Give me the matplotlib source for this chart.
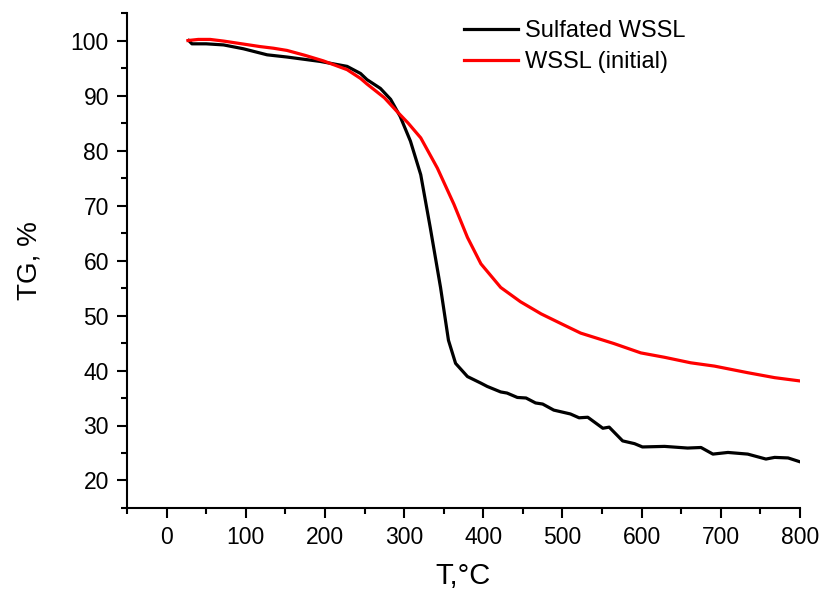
import matplotlib
matplotlib.use("Agg")
import matplotlib.pyplot as plt
from matplotlib.ticker import MultipleLocator

plt.rcParams['font.family'] = ['Liberation Sans', 'DejaVu Sans']

# Sulfated WSSL
t_sulf = [28, 32, 50, 72, 97, 127, 152, 194, 228, 245, 253, 270, 283, 295, 308, 321, 333, 346,
          356, 365, 380, 397, 405, 422, 430, 443, 454, 466, 475, 489, 510, 521, 532, 551, 559,
          576, 591, 601, 629, 658, 675, 690, 709, 734, 757, 768, 785, 800]
tg_sulf = [100.0, 99.4, 99.4, 99.2, 98.5, 97.4, 97.0, 96.2, 95.3, 94.0, 92.9, 91.3, 89.3, 86.2,
           81.7, 75.6, 66.0, 55.1, 45.5, 41.3, 38.9, 37.7, 37.1, 36.1, 35.9, 35.1, 35.0, 34.1,
           33.9, 32.8, 32.1, 31.4, 31.5, 29.5, 29.7, 27.2, 26.7, 26.1, 26.2, 25.9, 26.0, 24.8,
           25.1, 24.8, 23.9, 24.2, 24.1, 23.4]

# WSSL (initial)
t_init = [27, 40, 55, 72, 95, 118, 135, 152, 175, 198, 228, 245, 253, 275, 291, 305, 321, 342,
          363, 380, 397, 422, 447, 473, 500, 523, 565, 599, 629, 662, 692, 734, 768, 800]
tg_init = [100.0, 100.2, 100.2, 99.9, 99.4, 98.9, 98.6, 98.2, 97.3, 96.3, 94.7, 93.1, 92.1,
           89.6, 87.1, 85.0, 82.3, 76.8, 70.2, 64.2, 59.4, 55.1, 52.5, 50.3, 48.4, 46.8, 44.9,
           43.2, 42.4, 41.4, 40.8, 39.6, 38.7, 38.1]

fig = plt.figure(figsize=(8.21, 5.92), dpi=100)
ax = fig.add_axes([0.1547, 0.1419, 0.9744 - 0.1547, 0.978 - 0.1419])

ax.plot(t_sulf, tg_sulf, color='black', lw=2.3, label='Sulfated WSSL')
ax.plot(t_init, tg_init, color='#ff0000', lw=2.3, label='WSSL (initial)')

ax.set_xlim(-50, 800)
ax.set_ylim(15, 105)
ax.xaxis.set_major_locator(MultipleLocator(100))
ax.xaxis.set_minor_locator(MultipleLocator(50))
ax.yaxis.set_major_locator(MultipleLocator(10))
ax.yaxis.set_minor_locator(MultipleLocator(5))
ax.set_yticks(range(20, 101, 10))

for s in ['top', 'right']:
    ax.spines[s].set_visible(False)
for s in ['left', 'bottom']:
    ax.spines[s].set_linewidth(1.5)

ax.tick_params(which='major', direction='out', length=7, width=1.5, labelsize=16.5, pad=6)
ax.tick_params(which='minor', direction='out', length=4, width=1.5)

ax.set_xlabel('T,°C', fontsize=21, labelpad=9)
ax.set_ylabel('TG, %', fontsize=20, labelpad=20)

leg = ax.legend(loc='upper left', bbox_to_anchor=(0.486, 1.005), frameon=False,
                fontsize=17, handlelength=2.3, handletextpad=0.3, labelspacing=0.4,
                borderaxespad=0)

fig.savefig('out.png', dpi=100)
